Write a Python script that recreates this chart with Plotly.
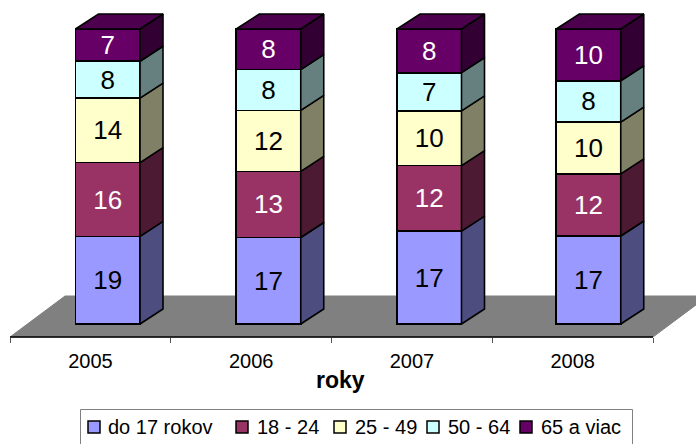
import numpy as np
import plotly.graph_objects as go

years = [2005, 2006, 2007, 2008]
series_names = ["do 17 rokov", "18 - 24", "25 - 49", "50 - 64", "65 a viac"]
do_17_rokov = [19, 17, 17, 17]
vek_18_24 = [16, 13, 12, 12]
vek_25_49 = [14, 12, 10, 10]
vek_50_64 = [8, 8, 7, 8]
vek_65_viac = [7, 8, 8, 10]
series_values = [do_17_rokov, vek_18_24, vek_25_49, vek_50_64, vek_65_viac]
front_colors = ["#9999FF", "#993366", "#FFFFCC", "#CCFFFF", "#660066"]
side_colors = ["#4D4D80", "#4D1A33", "#808066", "#668080", "#330033"]
top_color = "#4D004D"
text_colors = ["black", "white", "black", "black", "white"]

W, H = 696, 444
FONT = "Liberation Sans"

# Pixel-to-axis calibration of the pseudo-3D projection
def xd(px):
    return 2005 + (px - 90.4) / 160.75

def yd(py):
    return (324 - py) / 2.95

BAR_OFFS = [(75.5 - 90.4) / 160.75] * 3 + [(74.0 - 90.4) / 160.75]
BAR_W = 64.5 / 160.75
DX = 23 / 160.75
DY = 15 / 2.95
EDGE = dict(color="black", width=1.6)

totals = np.sum(series_values, axis=0)
shares = np.array(series_values) / totals * 100
cum = np.vstack([np.zeros(len(years)), np.cumsum(shares, axis=0)])

fig = go.Figure()

for i, name in enumerate(series_names):
    fig.add_trace(go.Bar(
        x=years, y=series_values[i], name=name, offset=BAR_OFFS, width=BAR_W,
        marker=dict(color=front_colors[i], line=EDGE),
        text=series_values[i], textposition="inside", insidetextanchor="middle",
        textangle=0, constraintext="none",
        insidetextfont=dict(family=FONT, size=26, color=text_colors[i]),
        showlegend=False,
    ))

for i, name in enumerate(series_names):
    xs, ys = [], []
    for j, yr in enumerate(years):
        x0 = yr + BAR_OFFS[j] + BAR_W
        lo, hi = cum[i][j], cum[i + 1][j]
        xs += [x0, x0 + DX, x0 + DX, x0, x0, None]
        ys += [lo, lo + DY, hi + DY, hi, lo, None]
    fig.add_trace(go.Scatter(
        x=xs, y=ys, mode="lines", fill="toself", fillcolor=side_colors[i],
        line=EDGE, hoverinfo="skip", showlegend=False,
    ))

xs, ys = [], []
for j, yr in enumerate(years):
    x0 = yr + BAR_OFFS[j]
    x1 = x0 + BAR_W
    xs += [x0, x1, x1 + DX, x0 + DX, x0, None]
    ys += [100, 100, 100 + DY, 100 + DY, 100, None]
fig.add_trace(go.Scatter(
    x=xs, y=ys, mode="lines", fill="toself", fillcolor=top_color,
    line=EDGE, hoverinfo="skip", showlegend=False,
))

shapes = [
    dict(type="path", layer="below", xref="x", yref="y",
         path=f"M {xd(10)} {yd(337)} L {xd(65)} {yd(296)} L {xd(708)} {yd(296)} L {xd(653)} {yd(337)} Z",
         fillcolor="#808080", line=dict(color="#808080", width=1)),
    dict(type="line", layer="below", xref="x", yref="y",
         x0=years[0] - 0.5, x1=years[-1] + 0.5, y0=yd(337), y1=yd(337),
         line=dict(color="black", width=1.5)),
    dict(type="rect", xref="paper", yref="paper",
         x0=80.5 / W, x1=632.5 / W, y0=1 - 447 / H, y1=1 - 409.5 / H,
         fillcolor="white", line=dict(color="#808080", width=1)),
]

annotations = [dict(text="<b>roky</b>", xref="paper", yref="paper",
                    x=340 / W, y=1 - 379.5 / H, xanchor="center", yanchor="middle",
                    showarrow=False, font=dict(family=FONT, size=23, color="black"))]
swatch_left = [88, 236, 334, 427, 520]
label_left = [107, 256, 354, 447, 540]
for i, name in enumerate(series_names):
    shapes.append(dict(type="rect", xref="paper", yref="paper",
                       x0=swatch_left[i] / W, x1=(swatch_left[i] + 12) / W,
                       y0=1 - 433 / H, y1=1 - 421 / H,
                       fillcolor=front_colors[i], line=dict(color="black", width=1.5)))
    annotations.append(dict(text=name, xref="paper", yref="paper",
                            x=label_left[i] / W, y=1 - 427 / H,
                            xanchor="left", yanchor="middle", showarrow=False,
                            xshift=-1, font=dict(family=FONT, size=20, color="black")))

fig.update_layout(
    width=W, height=H, margin=dict(l=0, r=0, t=0, b=0),
    paper_bgcolor="white", plot_bgcolor="white",
    barmode="stack", barnorm="percent", showlegend=False,
    shapes=shapes, annotations=annotations,
    xaxis=dict(
        range=[xd(0), xd(W)], domain=[0, 1], anchor="free", position=1 - 337 / H,
        tickmode="array", tickvals=years, ticktext=[str(y) for y in years],
        ticks="outside", ticklen=6, tickcolor="rgba(0,0,0,0)",
        tickfont=dict(family=FONT, size=20, color="black"),
        showline=False, showgrid=False, zeroline=False,
        minor=dict(tickvals=[y - 0.5 for y in years] + [years[-1] + 0.5],
                   ticks="outside", ticklen=5, tickcolor="#555555", tickwidth=1, showgrid=False),
    ),
    yaxis=dict(range=[yd(H), yd(0)], domain=[0, 1], visible=False),
)

fig.write_html("out.html", config={"displayModeBar": False},
               post_script="document.body.style.margin='0';document.body.style.overflow='hidden';")
